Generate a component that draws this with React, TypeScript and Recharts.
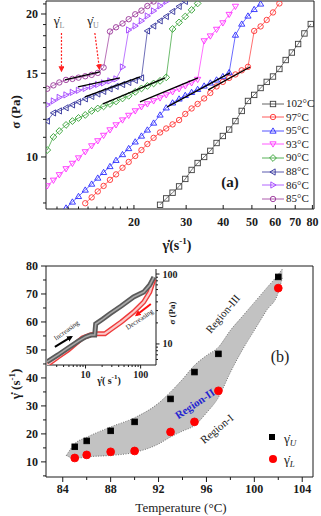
import React from 'react';
import { ComposedChart, Scatter, XAxis, YAxis, Area, ReferenceLine } from 'recharts';

const SERIF = '"Liberation Serif", "Times New Roman", serif';
const INK = '#1a1a1a';
const GAMMA_DOT = 'γ\u0307';

// ---------- panel (a): flow curves, sigma vs shear rate ----------
// shear rates of the sweep (s^-1)
const RATES = [
  10.2, 10.7, 11.2, 11.8, 12.4, 13.0, 13.7, 14.4, 15.1, 15.8, 16.6, 17.4, 18.3, 19.2, 20.2,
  21.2, 22.2, 23.3, 24.5, 25.7, 27.0, 28.4, 29.8, 31.3, 32.8, 34.5, 36.2, 38.0, 39.9, 41.9,
  44.0, 46.2, 48.5, 50.9, 53.5, 56.1, 58.9, 61.9, 65.0, 68.2, 71.6, 75.2, 79.0,
];

const SIGMA_102 = [
  7.93, 8.18, 8.41, 8.67, 8.99, 9.39, 9.71, 10.0, 10.3, 10.7, 11.07, 11.42, 11.9, 12.5, 13.12,
  13.51, 13.97, 14.39, 14.77, 15.32, 16.0, 16.59, 17.29, 18.2, 19.05,
];
const SIGMA_97 = [
  7.99, 8.22, 8.46, 8.69, 8.95, 9.19, 9.49, 9.76, 10.05, 10.34, 10.65, 10.97, 11.26, 11.48,
  11.71, 11.96, 12.32, 12.65, 12.93, 13.28, 13.64, 14.08, 14.39, 14.67, 14.92, 15.22, 15.48,
  18.42, 18.83, 19.43, 20.15, 21.05,
];
const SIGMA_95 = [
  7.81, 8.04, 8.26, 8.52, 8.77, 9.03, 9.28, 9.55, 9.84, 10.12, 10.42, 10.76, 11.07, 11.4, 11.79,
  12.26, 12.69, 13.0, 13.25, 13.48, 13.68, 13.88, 14.11, 14.32, 14.53, 14.77, 15.06,
  18.06, 19.05, 19.81, 20.45, 21.0,
];
const SIGMA_93 = [
  8.69, 8.93, 9.17, 9.44, 9.69, 9.95, 10.25, 10.55, 10.81, 11.1, 11.4, 11.68, 11.96, 12.23, 12.5,
  12.75, 12.93, 13.12, 13.31, 13.51, 13.71, 13.91, 14.11, 14.32, 14.56,
  17.55, 17.97, 18.56, 19.15, 19.95, 20.75,
];
const SIGMA_90 = [
  10.34, 11.02, 11.34, 11.68, 11.9, 12.08, 12.26, 12.5, 12.65, 12.78, 12.93, 13.09, 13.28, 13.45,
  13.71, 13.94, 14.11, 14.28, 14.46, 14.71,
  18.6, 19.2, 19.76, 20.4, 21.05,
];
const SIGMA_88 = [
  11.9, 12.38, 12.5, 12.69, 12.87, 13.06, 13.25, 13.41, 13.57, 13.74, 13.91, 14.08, 14.21, 14.35,
  14.5, 14.67,
  18.42, 18.87, 19.34, 19.76, 20.25, 20.75, 21.26,
];
const SIGMA_86 = [
  12.87, 13.12, 13.35, 13.51, 13.68, 13.81, 13.94, 14.08, 14.21, 14.32, 14.46, 14.6, 15.47,
  18.51, 18.87, 19.34, 19.81, 20.3, 20.8, 21.26,
];
const SIGMA_85 = [
  13.92, 14.15, 14.35, 14.53, 14.6, 14.69, 14.79, 14.89, 15.03, 15.43,
  18.37, 18.75, 19.1, 19.5, 19.97, 20.33, 20.79, 21.25,
];

const LABELS_A = ['102°C', '97°C', '95°C', '93°C', '90°C', '88°C', '86°C', '85°C'];
const COLORS_A = ['#3c3c3c', '#ff3030', '#2a2aff', '#ff30ff', '#2f9f2f', '#30309a', '#a040ff', '#993399'];
const MARKERS_A = ['square', 'circle', 'up', 'down', 'diamond', 'left', 'right', 'circle'];
const FIRST_A = [18, 6, 3, 0, 0, 0, 0, 0]; // index in RATES of each sweep's first point
const SIGMA_A = [SIGMA_102, SIGMA_97, SIGMA_95, SIGMA_93, SIGMA_90, SIGMA_88, SIGMA_86, SIGMA_85];

// linear fits drawn on the lower branches (85,86,88,90,93,95,97)
const FIT_RATE = [[11.69, 15.35], [12.94, 17.94], [13.66, 20.96], [15.72, 25.45], [20.96, 32.9], [25.9, 42.2], [35.6, 49.3]];
const FIT_SIGMA = [[14.53, 15.1], [14.04, 14.67], [13.38, 14.74], [12.93, 14.67], [13.06, 14.67], [12.75, 15.03], [13.84, 15.47]];

const X_TICKS_A = [11, 12, 13, 14, 15, 16, 17, 18, 19, 20, 30, 40, 50, 60, 70, 80];
const X_LABELS_A = [20, 30, 40, 50, 60, 70, 80];
const Y_TICKS_A = [8, 9, 10, 11, 12, 13, 14, 15, 16, 17, 18, 19, 20, 21];
const Y_LABELS_A = [10, 15, 20];

// ---------- panel (b): critical rates vs temperature ----------
const TEMP_B = [85, 86, 88, 90, 93, 95, 97, 102];
const RATE_U = [15.4, 17.5, 21.1, 24.3, 32.5, 42.1, 48.6, 76.1];
const RATE_L = [11.4, 12.5, 13.6, 13.9, 20.7, 24.3, 35.4, 72.1];

const BAND_T = [84.3, 85, 86, 88, 90, 92, 93, 94, 95, 96, 97, 98, 99, 100, 101, 102, 102.35];
const BAND_LO = [12.3, 11.2, 11.8, 12.3, 13.4, 16.4, 18.9, 21.0, 23.0, 27.5, 33.0, 42.0, 50.0, 57.0, 64.0, 70.5, 76.0];
const BAND_HI = [12.3, 16.5, 18.8, 22.5, 25.8, 31.0, 35.0, 39.5, 44.5, 48.0, 51.0, 57.0, 62.0, 67.0, 72.0, 77.0, 79.0];

const X_TICKS_B = [84, 86, 88, 90, 92, 94, 96, 98, 100, 102, 104];
const X_LABELS_B = [84, 88, 92, 96, 100, 104];
const Y_TICKS_B = [5, 10, 15, 20, 25, 30, 35, 40, 45, 50, 55, 60, 65, 70, 75, 80];
const Y_LABELS_B = [10, 20, 30, 40, 50, 60, 70, 80];

// inset: increasing / decreasing rate sweep
const INSET_UP_RATE = [2.0, 3.16, 4.84, 7.42, 10, 12.4, 14.7, 15.3, 20.6, 27.8, 44.5, 74.4, 113.7, 146.8, 174];
const INSET_UP_SIGMA = [5.53, 6.96, 8.77, 11.0, 12.6, 13.4, 13.4, 19.3, 22.7, 27.1, 34.9, 46.9, 55.3, 69.8, 90.6];
const INSET_DOWN_RATE = [174, 146.8, 113.7, 74.4, 44.5, 27.8, 22.5, 15.3, 11.9, 8.8, 4.84, 3.16, 2.0];
const INSET_DOWN_SIGMA = [84.5, 55.3, 39.8, 28.6, 20.6, 15.8, 14.0, 14.0, 13.4, 12.2, 8.2, 6.5, 5.0];

const X_TICKS_IN = [3, 4, 5, 6, 7, 8, 9, 10, 20, 30, 40, 50, 60, 70, 80, 90, 100];
const Y_TICKS_IN = [6, 7, 8, 9, 10, 20, 30, 40, 50, 60, 70, 80, 90, 100];
const LABELS_IN = [10, 100];

function Marker({ kind, cx, cy, color, s = 2.7, filled = false }: any) {
  const st = { fill: filled ? color : 'none', stroke: color, strokeWidth: 0.9 };
  if (cx == null || cy == null) return <g />;
  switch (kind) {
    case 'square':
      return <rect x={cx - s} y={cy - s} width={2 * s} height={2 * s} {...st} />;
    case 'circle':
      return <circle cx={cx} cy={cy} r={s} {...st} />;
    case 'diamond':
      return <polygon points={`${cx},${cy - s - 0.7} ${cx + s + 0.7},${cy} ${cx},${cy + s + 0.7} ${cx - s - 0.7},${cy}`} {...st} />;
    case 'up':
      return <polygon points={`${cx},${cy - s - 0.4} ${cx + s + 0.4},${cy + s * 0.8} ${cx - s - 0.4},${cy + s * 0.8}`} {...st} />;
    case 'down':
      return <polygon points={`${cx},${cy + s + 0.4} ${cx + s + 0.4},${cy - s * 0.8} ${cx - s - 0.4},${cy - s * 0.8}`} {...st} />;
    case 'left':
      return <polygon points={`${cx - s - 0.4},${cy} ${cx + s * 0.8},${cy - s - 0.4} ${cx + s * 0.8},${cy + s + 0.4}`} {...st} />;
    default:
      return <polygon points={`${cx + s + 0.4},${cy} ${cx - s * 0.8},${cy - s - 0.4} ${cx - s * 0.8},${cy + s + 0.4}`} {...st} />;
  }
}

const noShape = () => <g />;

function bottomTick(labels: number[], len: number, minor: number, inward: boolean, dy: number, size: number) {
  return (p: any) => {
    const v = p.payload.value;
    const major = labels.includes(v);
    const l = major ? len : minor;
    return (
      <g>
        <line x1={p.x} x2={p.x} y1={p.y} y2={inward ? p.y - l : p.y + l} stroke={INK} />
        {major && (
          <text x={p.x} y={p.y + dy} textAnchor="middle" fontSize={size} fontWeight={700} fontFamily={SERIF} fill={INK}>
            {v}
          </text>
        )}
      </g>
    );
  };
}

function sideTick(labels: number[], side: 'left' | 'right', len: number, minor: number, size: number) {
  return (p: any) => {
    const v = p.payload.value;
    const major = labels.includes(v);
    const l = major ? len : minor;
    const d = side === 'left' ? -1 : 1;
    return (
      <g>
        <line x1={p.x} x2={p.x + d * l} y1={p.y} y2={p.y} stroke={INK} />
        {major && (
          <text x={p.x + d * (l + 3)} y={p.y + size * 0.35} textAnchor={side === 'left' ? 'end' : 'start'} fontSize={size} fontWeight={700} fontFamily={SERIF} fill={INK}>
            {v}
          </text>
        )}
      </g>
    );
  };
}

function Label({ x, y, rot = 0, size = 12, bold = false, color = INK, anchor = 'center', children }: any) {
  const tx = anchor === 'start' ? '0' : '-50%';
  return (
    <div
      style={{
        position: 'absolute', left: x, top: y, transform: `translate(${tx}, -50%) rotate(${rot}deg)`,
        fontSize: size, fontWeight: bold ? 700 : 400, color, whiteSpace: 'nowrap', lineHeight: 1,
      }}
    >
      {children}
    </div>
  );
}

// top and right border lines of a framed plot
const frameAxes = () => [
  <XAxis key="ft" xAxisId="top" orientation="top" type="number" domain={[0, 1]} tick={false} tickLine={false} height={1} axisLine={{ stroke: INK }} />,
  <YAxis key="fr" yAxisId="right" orientation="right" type="number" domain={[0, 1]} tick={false} tickLine={false} width={1} axisLine={{ stroke: INK }} />,
];

function PanelA() {
  const sweeps = SIGMA_A.map((sig, i) => sig.map((s, k) => ({ x: RATES[FIRST_A[i] + k], y: s })));
  const fits = FIT_RATE.map((r, i) => [{ x: r[0], y: FIT_SIGMA[i][0] }, { x: r[1], y: FIT_SIGMA[i][1] }]);
  return (
    <ComposedChart width={321} height={260} margin={{ top: 0, right: 6, bottom: 21, left: 6 }}>
      <defs>
        <marker id="arrRed" markerWidth="6" markerHeight="6" refX="5" refY="3" orient="auto" markerUnits="userSpaceOnUse">
          <path d="M0,0 L6,3 L0,6 z" fill="#ff2020" />
        </marker>
      </defs>
      <XAxis dataKey="x" type="number" scale="log" domain={[10.1, 81]} allowDataOverflow ticks={X_TICKS_A} interval={0}
        tickLine={false} tickSize={0} tickMargin={0} height={30} axisLine={{ stroke: INK }}
        tick={bottomTick(X_LABELS_A, 4, 2.5, true, 17, 12)} />
      <YAxis dataKey="y" type="number" scale="log" domain={[7.77, 21.3]} allowDataOverflow ticks={Y_TICKS_A} interval={0}
        tickLine={false} tickSize={0} tickMargin={0} width={40} axisLine={{ stroke: INK }}
        tick={sideTick(Y_LABELS_A, 'left', 5, 3, 12)} />
      {frameAxes()}
      {sweeps.map((pts, i) => (
        <Scatter key={LABELS_A[i]} data={pts} isAnimationActive={false}
          line={{ stroke: COLORS_A[i], strokeWidth: 0.7 }}
          shape={(p: any) => <Marker kind={MARKERS_A[i]} cx={p.cx} cy={p.cy} color={COLORS_A[i]} />} />
      ))}
      {fits.map((pts, i) => (
        <Scatter key={'fit' + i} data={pts} isAnimationActive={false} line={{ stroke: '#000', strokeWidth: 1.3 }} shape={noShape} />
      ))}
      <ReferenceLine segment={[{ x: 11.39, y: 18.24 }, { x: 11.39, y: 15.15 }]} stroke="#ff2020" strokeDasharray="2 1.5" strokeWidth={1.2} markerEnd="url(#arrRed)" />
      <ReferenceLine segment={[{ x: 14.76, y: 18.24 }, { x: 15.3, y: 15.3 }]} stroke="#ff2020" strokeDasharray="2 1.5" strokeWidth={1.2} markerEnd="url(#arrRed)" />
    </ComposedChart>
  );
}

function PanelB() {
  const band = BAND_T.map((t, i) => ({ t, band: [BAND_LO[i], BAND_HI[i]] }));
  const upper = TEMP_B.map((t, i) => ({ t, v: RATE_U[i] }));
  const lower = TEMP_B.map((t, i) => ({ t, v: RATE_L[i] }));
  return (
    <ComposedChart width={321} height={260} data={band} margin={{ top: 9, right: 7, bottom: 9, left: 6 }}>
      <XAxis dataKey="t" type="number" domain={[82.6, 104.9]} allowDataOverflow ticks={X_TICKS_B} interval={0}
        tickLine={false} tickSize={0} tickMargin={0} height={30} axisLine={{ stroke: INK }}
        tick={bottomTick(X_LABELS_B, 5, 3, false, 16, 12)} />
      <YAxis dataKey="v" type="number" domain={[4.6, 80]} allowDataOverflow ticks={Y_TICKS_B} interval={0}
        tickLine={false} tickSize={0} tickMargin={0} width={40} axisLine={{ stroke: INK }}
        tick={sideTick(Y_LABELS_B, 'left', 5, 3, 12)} />
      {frameAxes()}
      <Area dataKey="band" type="monotone" fill="#c2c2c2" fillOpacity={1} stroke="#555" strokeWidth={0.8}
        strokeDasharray="1 1.5" isAnimationActive={false} dot={false} activeDot={false} />
      <Scatter data={upper} isAnimationActive={false}
        shape={(p: any) => <Marker kind="square" cx={p.cx} cy={p.cy} color="#000" s={2.8} filled />} />
      <Scatter data={lower} isAnimationActive={false}
        shape={(p: any) => <Marker kind="circle" cx={p.cx} cy={p.cy} color="#ff0000" s={3.9} filled />} />
    </ComposedChart>
  );
}

function Inset() {
  const up = INSET_UP_RATE.map((r, i) => ({ r, s: INSET_UP_SIGMA[i] }));
  const down = INSET_DOWN_RATE.map((r, i) => ({ r, s: INSET_DOWN_SIGMA[i] }));
  return (
    <ComposedChart width={200} height={130} margin={{ top: 9, right: 14, bottom: 5, left: 47 }}>
      <defs>
        <marker id="arrBlk" markerWidth="6" markerHeight="6" refX="4" refY="3" orient="auto" markerUnits="userSpaceOnUse">
          <path d="M0,0 L6,3 L0,6 z" fill="#000" />
        </marker>
        <marker id="arrRed2" markerWidth="6" markerHeight="6" refX="4" refY="3" orient="auto" markerUnits="userSpaceOnUse">
          <path d="M0,0 L6,3 L0,6 z" fill="#ff1010" />
        </marker>
      </defs>
      <XAxis dataKey="r" type="number" scale="log" domain={[2, 190]} allowDataOverflow ticks={X_TICKS_IN} interval={0}
        tickLine={false} tickSize={0} tickMargin={0} height={20} axisLine={{ stroke: INK }}
        tick={bottomTick(LABELS_IN, 3.5, 2, false, 13, 10)} />
      <YAxis dataKey="s" orientation="right" type="number" scale="log" domain={[5, 118]} allowDataOverflow ticks={Y_TICKS_IN} interval={0}
        tickLine={false} tickSize={0} tickMargin={0} width={30} axisLine={{ stroke: INK }}
        tick={sideTick(LABELS_IN, 'right', 3.5, 2, 10)} />
      <Scatter data={down} isAnimationActive={false} line={{ stroke: '#ee3b3b', strokeWidth: 5 }} shape={noShape} />
      <Scatter data={down} isAnimationActive={false} line={{ stroke: '#fbcaca', strokeWidth: 2.2 }} shape={noShape} />
      <Scatter data={up} isAnimationActive={false} line={{ stroke: '#5a5a5a', strokeWidth: 5 }} shape={noShape} />
      <Scatter data={up} isAnimationActive={false} line={{ stroke: '#a8a8a8', strokeWidth: 1.6 }} shape={noShape} />
      <ReferenceLine segment={[{ x: 2.78, y: 9.06 }, { x: 5.5, y: 12.59 }]} stroke="#000" strokeWidth={2} markerEnd="url(#arrBlk)" />
      <ReferenceLine segment={[{ x: 153.2, y: 37.3 }, { x: 84.3, y: 25.9 }]} stroke="#ff1010" strokeWidth={2} markerEnd="url(#arrRed2)" />
    </ComposedChart>
  );
}

export default function App() {
  return (
    <div style={{ position: 'absolute', left: 0, top: 0, width: 321, height: 516, background: '#fff', overflow: 'hidden', fontFamily: SERIF, color: INK }}>
      <div style={{ position: 'absolute', left: 0, top: 0 }}>
        <PanelA />
      </div>
      <div style={{ position: 'absolute', left: 0, top: 256 }}>
        <PanelB />
      </div>
      <div style={{ position: 'absolute', left: 0, top: 260 }}>
        <Inset />
      </div>

      {/* panel (a) text */}
      <Label x={15} y={112} rot={-90} size={13} bold>σ (Pa)</Label>
      <Label x={177} y={245} size={14} bold>{GAMMA_DOT}(s<sup style={{ fontSize: 9 }}>-1</sup>)</Label>
      <Label x={59} y={22} size={13}>{GAMMA_DOT}<sub style={{ fontSize: 8, color: '#888' }}>L</sub></Label>
      <Label x={93} y={22} size={13}>{GAMMA_DOT}<sub style={{ fontSize: 8, color: '#888' }}>U</sub></Label>
      <Label x={230} y={182} size={15} bold>(a)</Label>
      {LABELS_A.map((name, i) => (
        <div key={name} style={{ position: 'absolute', left: 262, top: 98 + i * 13.6, display: 'flex', alignItems: 'center', fontSize: 11, lineHeight: 1 }}>
          <svg width={22} height={10} style={{ display: 'block' }}>
            <line x1={0} x2={22} y1={5} y2={5} stroke={COLORS_A[i]} strokeWidth={0.8} />
            <Marker kind={MARKERS_A[i]} cx={11} cy={5} color={COLORS_A[i]} />
          </svg>
          <span style={{ marginLeft: 2 }}>{name}</span>
        </div>
      ))}

      {/* panel (b) text */}
      <Label x={15} y={384} rot={-90} size={13} bold>{GAMMA_DOT} (s<sup style={{ fontSize: 9 }}>-1</sup>)</Label>
      <Label x={181} y={507} size={13}>Temperature (°C)</Label>
      <Label x={223} y={314} rot={-50} size={11}>Region-III</Label>
      <Label x={195} y={404} rot={-34} size={11} bold color="#2525d0">Region-II</Label>
      <Label x={217} y={429} rot={-40} size={11}>Region-I</Label>
      <Label x={280} y={357} size={16}>(b)</Label>
      <div style={{ position: 'absolute', left: 269, top: 434, width: 6, height: 6, background: '#000' }} />
      <Label x={284} y={440} size={13} anchor="start">{GAMMA_DOT}<sub style={{ fontSize: 9, fontStyle: 'italic' }}>U</sub></Label>
      <div style={{ position: 'absolute', left: 269, top: 455, width: 8, height: 8, borderRadius: 4, background: '#ff0000' }} />
      <Label x={284} y={461} size={13} anchor="start">{GAMMA_DOT}<sub style={{ fontSize: 9, fontStyle: 'italic' }}>L</sub></Label>

      {/* inset text */}
      <Label x={109} y={380} size={10} bold>{GAMMA_DOT}( s<sup style={{ fontSize: 7 }}>-1</sup>)</Label>
      <Label x={172} y={313} rot={-90} size={9} bold>σ (Pa)</Label>
      <Label x={67} y={331} rot={-36} size={7}>Increasing</Label>
      <Label x={140} y={320} rot={-34} size={7}>Decreasing</Label>
    </div>
  );
}
